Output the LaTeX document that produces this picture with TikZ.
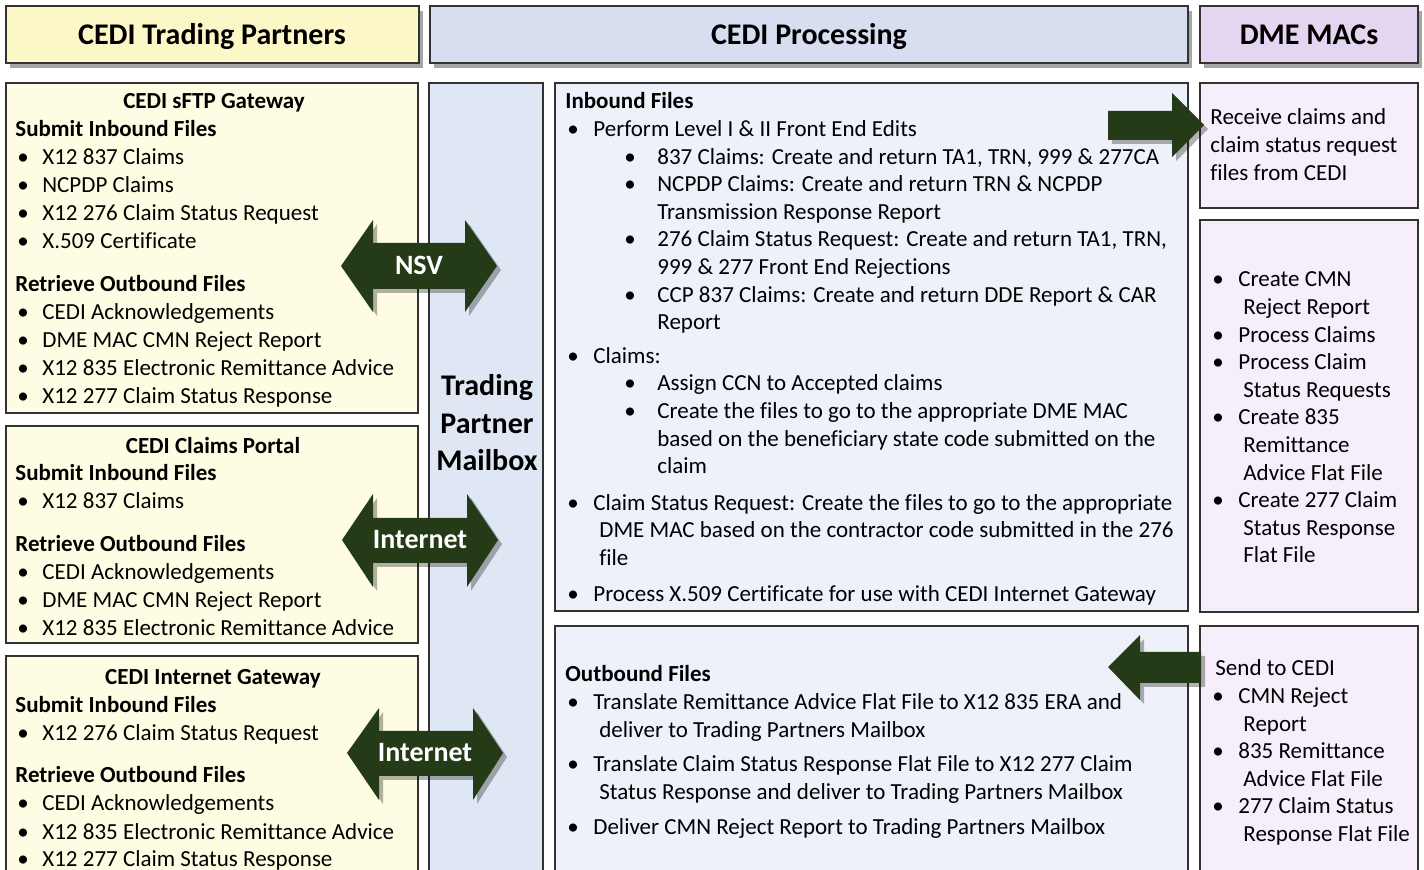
\documentclass[tikz,border=0pt]{standalone}
\usepackage{fontspec}
\setmainfont[Ligatures=NoCommon]{Carlito}
\usetikzlibrary{shadows}
\definecolor{bord}{HTML}{333333}
\definecolor{yhead}{HTML}{FBF7C6}
\definecolor{ybody}{HTML}{FEFDE3}
\definecolor{bhead}{HTML}{D6DEEF}
\definecolor{bmail}{HTML}{E0E7F4}
\definecolor{bbody}{HTML}{EEF1FA}
\definecolor{phead}{HTML}{E4D5F0}
\definecolor{pbody}{HTML}{F6EEFA}
\definecolor{arrowc}{HTML}{253B18}
\newcommand{\bodyfont}{\fontsize{11.5}{14}\selectfont}
\newcommand{\midfont}{\fontsize{11.5}{13.8}\selectfont}
% left boxes bullets
\newcommand{\lb}{\hspace*{1pt}\makebox[12.5pt][l]{\textbullet}}
% middle boxes bullets
\newcommand{\ma}{\hspace*{1pt}\makebox[13pt][l]{\textbullet}}
\newcommand{\mac}{\hspace*{17pt}}
\newcommand{\mb}{\hspace*{29.5pt}\makebox[16.5pt][l]{\textbullet}}
\newcommand{\mbc}{\hspace*{46pt}}
% right boxes bullets
\newcommand{\rb}{\hspace*{1pt}\makebox[13pt][l]{\textbullet}}
\newcommand{\rbc}{\hspace*{16.5pt}}
\begin{document}
\begin{tikzpicture}[x=0.5pt,y=-0.5pt,
  box/.style={draw=bord, line width=0.6pt},
  hdr/.style={box, drop shadow={shadow xshift=2pt, shadow yshift=-2.5pt, opacity=0.35, fill=black}},
  hdrtext/.style={anchor=base, inner sep=0pt, font=\fontsize{15}{18}\selectfont\bfseries},
  blk/.style={anchor=base west, inner sep=0pt},
  ttl/.style={anchor=base, inner sep=0pt, font=\fontsize{11.5}{14}\selectfont\bfseries},
  arrowshape/.style={fill=arrowc, drop shadow={shadow xshift=2pt, shadow yshift=-2pt, opacity=0.3, fill=black}},
  arrowtext/.style={anchor=base, inner sep=0pt, text=white, font=\fontsize{14}{17}\selectfont\bfseries}]
\useasboundingbox (0,0) rectangle (1424,870);
\clip (0,0) rectangle (1424,870);
\fill[white] (0,0) rectangle (1424,870);

% headers
\path[hdr, fill=yhead] (6,6) rectangle (419,63);
\path[hdr, fill=bhead] (430,6) rectangle (1188,63);
\path[hdr, fill=phead] (1200,6) rectangle (1418,63);
\node[hdrtext] (h1) at (212,45) {CEDI Trading Partners};
\node[hdrtext] (h2) at (809,45) {CEDI Processing};
\node[hdrtext] (h3) at (1309,45) {DME MACs};

% column boxes
\path[box, fill=ybody] (6,83) rectangle (418,413);
\path[box, fill=ybody] (6,426) rectangle (418,643);
\path[box, fill=ybody] (6,656) rectangle (418,890);
\path[box, fill=bmail] (429,83) rectangle (543,890);
\path[box, fill=bbody] (555,83) rectangle (1188,611);
\path[box, fill=bbody] (555,626) rectangle (1188,890);
\path[box, fill=pbody] (1200,83) rectangle (1418,208);
\path[box, fill=pbody] (1200,220) rectangle (1418,612);
\path[box, fill=pbody] (1200,626) rectangle (1418,890);

% left: sFTP gateway
\node[ttl] (t1) at (214,109) {CEDI sFTP Gateway};
\node[blk] (sftp) at (15,137) {\parbox[t]{250pt}{\bodyfont
\textbf{Submit Inbound Files}\\
\lb X12 837 Claims\\
\lb NCPDP Claims\\
\lb X12 276 Claim Status Request\\
\lb X.509 Certificate\\[7.5pt]
\textbf{Retrieve Outbound Files}\\
\lb CEDI Acknowledgements\\
\lb DME MAC CMN Reject Report\\
\lb X12 835 Electronic Remittance Advice\\
\lb X12 277 Claim Status Response}};

% left: claims portal
\node[ttl] (t2) at (213,454) {CEDI Claims Portal};
\node[blk] (portal) at (15,481) {\parbox[t]{250pt}{\bodyfont
\textbf{Submit Inbound Files}\\
\lb X12 837 Claims\\[7.5pt]
\textbf{Retrieve Outbound Files}\\
\lb CEDI Acknowledgements\\
\lb DME MAC CMN Reject Report\\
\lb X12 835 Electronic Remittance Advice}};

% left: internet gateway
\node[ttl] (t3) at (213,685) {CEDI Internet Gateway};
\node[blk] (igw) at (15,712) {\parbox[t]{250pt}{\bodyfont
\textbf{Submit Inbound Files}\\
\lb X12 276 Claim Status Request\\[7.5pt]
\textbf{Retrieve Outbound Files}\\
\lb CEDI Acknowledgements\\
\lb X12 835 Electronic Remittance Advice\\
\lb X12 277 Claim Status Response}};

% mailbox
\node[anchor=base, inner sep=0pt] (mail) at (487,396) {\parbox[t]{70pt}{\centering\fontsize{15}{18.75}\selectfont\bfseries Trading\\ Partner\\ Mailbox}};

% inbound
\node[blk] (inb) at (565,109) {\parbox[t]{320pt}{\midfont
\textbf{Inbound Files}\\
\ma Perform Level I \& II Front End Edits\\
\mb 837 Claims: Create and return TA1, TRN, 999 \& 277CA\\
\mb NCPDP Claims: Create and return TRN \& NCPDP\\
\mbc Transmission Response Report\\
\mb 276 Claim Status Request: Create and return TA1, TRN,\\
\mbc 999 \& 277 Front End Rejections\\
\mb CCP 837 Claims: Create and return DDE Report \& CAR\\
\mbc Report\\[3pt]
\ma Claims:\\
\mb Assign CCN to Accepted claims\\
\mb Create the files to go to the appropriate DME MAC\\
\mbc based on the beneficiary state code submitted on the\\
\mbc claim\\[4.5pt]
\ma Claim Status Request: Create the files to go to the appropriate\\
\mac DME MAC based on the contractor code submitted in the 276\\
\mac file\\[4pt]
\ma Process X.509 Certificate for use with CEDI Internet Gateway}};

% outbound
\node[blk] (outb) at (565,682) {\parbox[t]{320pt}{\midfont
\textbf{Outbound Files}\\
\ma Translate Remittance Advice Flat File to X12 835 ERA and\\
\mac deliver to Trading Partners Mailbox\\[3.5pt]
\ma Translate Claim Status Response Flat File to X12 277 Claim\\
\mac Status Response and deliver to Trading Partners Mailbox\\[4pt]
\ma Deliver CMN Reject Report to Trading Partners Mailbox}};

% right boxes
\node[blk] (recv) at (1210,125) {\parbox[t]{110pt}{\midfont
Receive claims and\\
claim status request\\
files from CEDI}};
\node[blk] (proc) at (1210,287) {\parbox[t]{110pt}{\midfont
\rb Create CMN\\
\rbc Reject Report\\
\rb Process Claims\\
\rb Process Claim\\
\rbc Status Requests\\
\rb Create 835\\
\rbc Remittance\\
\rbc Advice Flat File\\
\rb Create 277 Claim\\
\rbc Status Response\\
\rbc Flat File}};
\node[blk] (send) at (1210,676) {\parbox[t]{110pt}{\midfont
\hspace*{2.5pt}Send to CEDI\\
\rb CMN Reject\\
\rbc Report\\
\rb 835 Remittance\\
\rbc Advice Flat File\\
\rb 277 Claim Status\\
\rbc Response Flat File}};

% double arrows
\fill[arrowshape] (341,266) -- (373,220) -- (373,243) -- (465,243) -- (465,220) -- (497,266) -- (465,312) -- (465,289) -- (373,289) -- (373,312) -- cycle;
\node[arrowtext] (nsv) at (419,275) {NSV};
\fill[arrowshape] (342,540) -- (373,494) -- (373,518) -- (467,518) -- (467,494) -- (498,540) -- (467,587) -- (467,563) -- (373,563) -- (373,587) -- cycle;
\node[arrowtext] (inet1) at (420,549) {Internet};
\fill[arrowshape] (347,753) -- (379,708) -- (379,731) -- (473,731) -- (473,708) -- (503,753) -- (473,800) -- (473,776) -- (379,776) -- (379,800) -- cycle;
\node[arrowtext] (inet2) at (425,762) {Internet};

% single arrows
\fill[arrowshape] (1108,111) -- (1172,111) -- (1172,93) -- (1204,125) -- (1172,157) -- (1172,140) -- (1108,140) -- cycle;
\fill[arrowshape] (1108,667) -- (1140,635) -- (1140,652) -- (1201,652) -- (1201,683) -- (1140,683) -- (1140,700) -- cycle;
\end{tikzpicture}
\end{document}
